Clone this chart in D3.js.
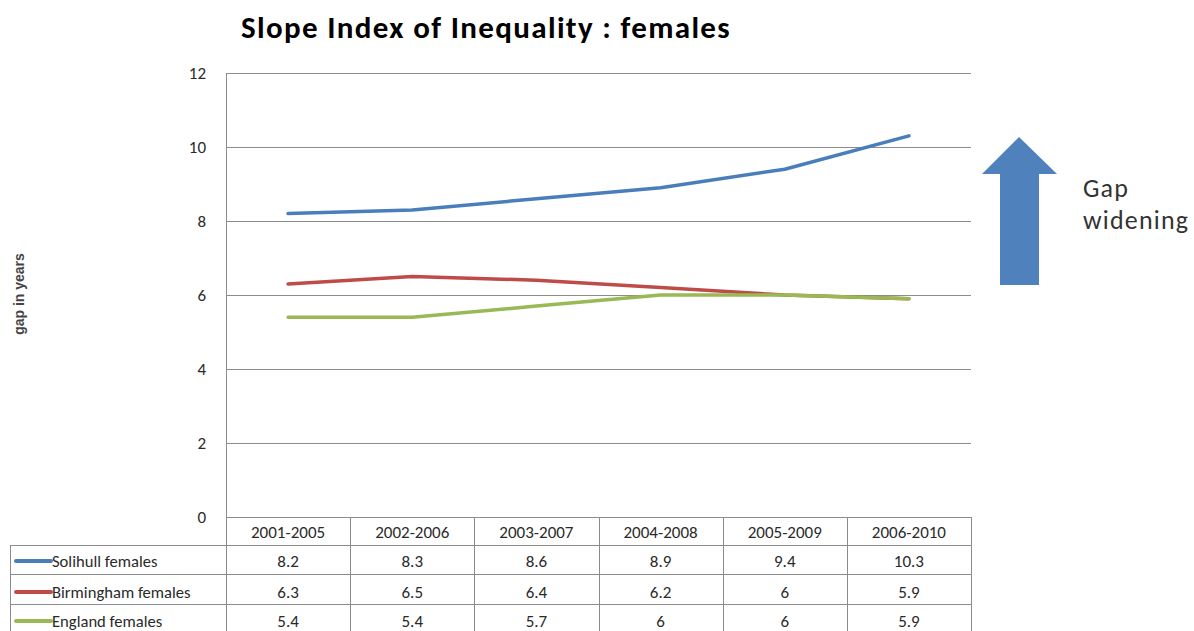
<!DOCTYPE html>
<html>
<head>
<meta charset="utf-8">
<script src="https://cdn.jsdelivr.net/npm/d3@7/dist/d3.min.js"></script>
<style>
  html, body { margin: 0; padding: 0; background: #fff; }
  svg { display: block; }
</style>
</head>
<body>
<svg id="chart" width="1194" height="631"></svg>
<script>
// Periods (x categories)
const periods = ["2001-2005", "2002-2006", "2003-2007", "2004-2008", "2005-2009", "2006-2010"];
// Series values: gap in years
const solihull = [8.2, 8.3, 8.6, 8.9, 9.4, 10.3];
const birmingham = [6.3, 6.5, 6.4, 6.2, 6, 5.9];
const england = [5.4, 5.4, 5.7, 6, 6, 5.9];
const seriesNames = ["Solihull females", "Birmingham females", "England females"];
const yTicks = [0, 2, 4, 6, 8, 10, 12];

const series = [
  { name: seriesNames[0], values: solihull, color: "#4a7ebb" },
  { name: seriesNames[1], values: birmingham, color: "#be4b48" },
  { name: seriesNames[2], values: england, color: "#98b954" }
];

const svg = d3.select("#chart");
const font = "Carlito, 'Open Sans', 'Liberation Sans', sans-serif";
const textColor = "#2a2a2a";

const plotLeft = 226, plotRight = 971, plotTop = 73, plotBottom = 517;
const tableLeft = 10;
const rowEdges = [517, 545, 574, 604, 633];
const rowBaselines = [538, 567, 598, 627];

const x = d3.scaleBand().domain(periods).range([plotLeft, plotRight]);
const y = d3.scaleLinear().domain([0, 12]).range([plotBottom, plotTop]);

// Title
svg.append("text")
  .attr("x", 486).attr("y", 38)
  .attr("text-anchor", "middle")
  .attr("font-family", font)
  .attr("font-weight", "bold")
  .attr("font-size", 31)
  .attr("letter-spacing", 1.35)
  .attr("fill", "#000")
  .text("Slope Index of Inequality : females");

// Y axis tick labels
const yAxis = d3.axisLeft(y).tickValues(yTicks).tickSize(0).tickPadding(20)
  .tickFormat(d3.format("d"));
const gy = svg.append("g").attr("transform", `translate(${plotLeft},0)`).call(yAxis);
gy.select(".domain").remove();
gy.selectAll("text")
  .attr("font-family", font).attr("font-size", 17).attr("fill", textColor)
  .attr("dy", "0.3em");

// Horizontal gridlines
svg.append("g").selectAll("line")
  .data(yTicks.filter(d => d > 0))
  .join("line")
  .attr("x1", plotLeft).attr("x2", plotRight)
  .attr("y1", d => y(d) + 0.5).attr("y2", d => y(d) + 0.5)
  .attr("stroke", "#8c8c8c").attr("stroke-width", 1);

// Left axis line
svg.append("line")
  .attr("x1", plotLeft + 0.5).attr("x2", plotLeft + 0.5)
  .attr("y1", plotTop).attr("y2", plotBottom)
  .attr("stroke", "#8c8c8c");

// Y axis title
svg.append("text")
  .attr("transform", "translate(24,294) rotate(-90)")
  .attr("text-anchor", "middle")
  .attr("font-family", "'Liberation Sans', Arial, sans-serif")
  .attr("font-weight", "bold")
  .attr("font-size", 14)
  .attr("fill", "#444")
  .text("gap in years");

// Series lines
const line = d3.line()
  .x((d, i) => x(periods[i]) + x.bandwidth() / 2)
  .y(d => y(d));

svg.append("g").selectAll("path")
  .data(series)
  .join("path")
  .attr("d", d => line(d.values))
  .attr("fill", "none")
  .attr("stroke", d => d.color)
  .attr("stroke-width", 3.5)
  .attr("stroke-linejoin", "round")
  .attr("stroke-linecap", "round");

// Data table
const table = svg.append("g");
const gridColor = "#8c8c8c";

// horizontal rules
rowEdges.forEach((ry, i) => {
  table.append("line")
    .attr("x1", i === 0 ? plotLeft : tableLeft).attr("x2", plotRight)
    .attr("y1", ry + 0.5).attr("y2", ry + 0.5)
    .attr("stroke", gridColor);
});
// vertical rules
const colEdges = periods.map(p => x(p)).concat([plotRight]);
colEdges.forEach(cx => {
  table.append("line")
    .attr("x1", Math.round(cx) + 0.5).attr("x2", Math.round(cx) + 0.5)
    .attr("y1", rowEdges[0]).attr("y2", 631)
    .attr("stroke", gridColor);
});
table.append("line")
  .attr("x1", tableLeft + 0.5).attr("x2", tableLeft + 0.5)
  .attr("y1", rowEdges[1]).attr("y2", 631)
  .attr("stroke", gridColor);

// header labels
table.selectAll("text.head")
  .data(periods)
  .join("text")
  .attr("class", "head")
  .attr("x", d => x(d) + x.bandwidth() / 2)
  .attr("y", rowBaselines[0])
  .attr("text-anchor", "middle")
  .attr("font-family", font).attr("font-size", 17).attr("fill", textColor)
  .text(d => d);

// series rows: legend key, name, values
series.forEach((s, r) => {
  const base = rowBaselines[r + 1];
  const cy = base - 6;
  table.append("line")
    .attr("x1", 16).attr("x2", 51)
    .attr("y1", cy).attr("y2", cy)
    .attr("stroke", s.color).attr("stroke-width", 4)
    .attr("stroke-linecap", "round");
  table.append("text")
    .attr("x", 52).attr("y", base)
    .attr("font-family", font).attr("font-size", 16.6).attr("fill", textColor)
    .text(s.name);
  table.selectAll(null)
    .data(s.values)
    .join("text")
    .attr("x", (d, i) => x(periods[i]) + x.bandwidth() / 2)
    .attr("y", base)
    .attr("text-anchor", "middle")
    .attr("font-family", font).attr("font-size", 17).attr("fill", textColor)
    .text(d => d);
});

// "Gap widening" arrow
const arrow = d3.path();
arrow.moveTo(1019, 137);
arrow.lineTo(1057, 174);
arrow.lineTo(1039, 174);
arrow.lineTo(1039, 285);
arrow.lineTo(1000, 285);
arrow.lineTo(1000, 174);
arrow.lineTo(982, 174);
arrow.closePath();
svg.append("path")
  .attr("d", arrow.toString())
  .attr("fill", "#4f81bd");

["Gap", "widening"].forEach((word, i) => {
  svg.append("text")
    .attr("x", 1083)
    .attr("y", 197 + i * 32)
    .attr("font-family", font).attr("font-size", 26)
    .attr("letter-spacing", 1.2)
    .attr("fill", "#333")
    .text(word);
});
</script>
</body>
</html>
